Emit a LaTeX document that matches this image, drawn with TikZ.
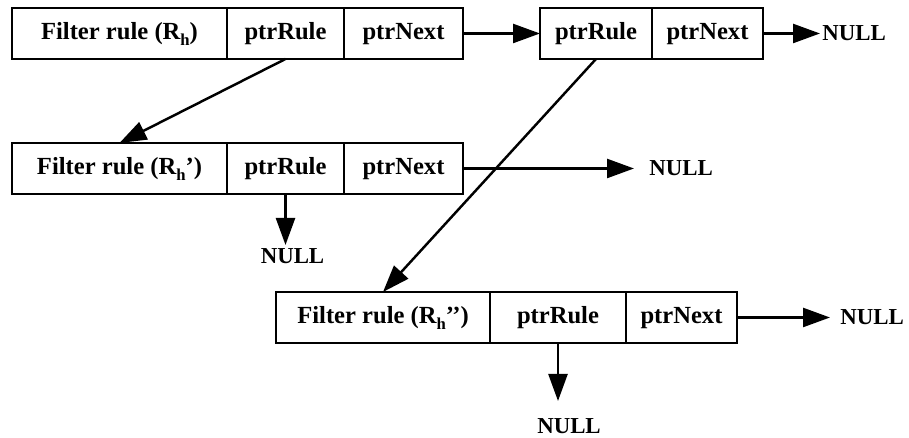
\documentclass[tikz,border=0pt]{standalone}
\usepackage{fontspec}
\setmainfont{Liberation Serif}
\usetikzlibrary{positioning,arrows.meta}

\newcommand{\subh}{\raisebox{-0.5ex}{\fontsize{9.5}{9.5}\selectfont h}}

\begin{document}
\begin{tikzpicture}[
  cell/.style={draw,line width=1.3pt,minimum height=1.02cm,inner sep=0pt,outer sep=0pt,text height=0.9em,text depth=0.16em,font=\bfseries\fontsize{14}{16}\selectfont},
  nul/.style={inner sep=0pt,font=\bfseries\fontsize{13}{15}\selectfont},
  arr/.style={-{Triangle[length=5.4mm,width=3.8mm]},line width=1.4pt},
  node distance=0pt]
  \useasboundingbox (0,0) rectangle (18.18,8.76);
  % first rule entry and its pointer cell
  \node[cell,minimum width=4.3cm,anchor=west] (r1f) at (0.24,8.09) {Filter rule (R\subh)};
  \node[cell,minimum width=2.34cm,right=of r1f] (r1r) {ptrRule};
  \node[cell,minimum width=2.38cm,right=of r1r] (r1n) {ptrNext};
  \node[cell,minimum width=2.24cm,anchor=west] (b2r) at (10.8,8.09) {ptrRule};
  \node[cell,minimum width=2.22cm,right=of b2r] (b2n) {ptrNext};
  % second row
  \node[cell,minimum width=4.3cm,anchor=west] (r2f) at (0.24,5.39) {Filter rule (R\subh’)};
  \node[cell,minimum width=2.34cm,right=of r2f] (r2r) {ptrRule};
  \node[cell,minimum width=2.38cm,right=of r2r] (r2n) {ptrNext};
  % third row
  \node[cell,minimum width=4.28cm,anchor=west] (r3f) at (5.52,2.41) {Filter rule (R\subh’’)};
  \node[cell,minimum width=2.72cm,right=of r3f] (r3r) {ptrRule};
  \node[cell,minimum width=2.22cm,right=of r3r] (r3n) {ptrNext};
  % end markers
  \node[nul,right=1.18cm of b2n] (null1) {NULL};
  \node[nul,right=3.72cm of r2n] (null2) {NULL};
  \node[nul,right=2.06cm of r3n] (null3) {NULL};
  \node[nul,below=1.08cm of r2r,xshift=0.14cm] (null4) {NULL};
  \node[nul,below=1.5cm of r3r,xshift=0.22cm] (null5) {NULL};
  \draw[arr] (r1n) -- (b2r);
  \draw[arr,shorten >=0.04cm] (b2n) -- (null1);
  \draw[arr,shorten >=0.3cm] (r2n) -- (null2);
  \draw[arr,shorten >=0.2cm] (r3n) -- (null3);
  \draw[arr,shorten >=0.06cm] (r2r.south) -- (r2r.south |- null4.north);
  \draw[arr,shorten >=0.34cm] (r3r.south) -- (r3r.south |- null5.north);
  \draw[arr] (r1r.south) -- (r2f.north);
  \draw[arr] (b2r.south) -- (r3f.north);
\end{tikzpicture}
\end{document}
